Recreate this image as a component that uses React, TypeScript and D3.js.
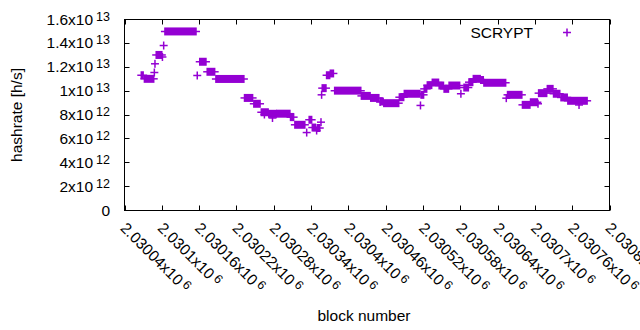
import * as d3 from "d3";
import React, { useRef, useEffect } from "react";

const width = 640;
const height = 330;
const frame = { left: 124.5, right: 609.5, top: 19.5, bottom: 210.5 };
const purple = "#9400d3";
const font = "'Liberation Sans', Arial, sans-serif";

// runs of SCRYPT blocks that share one hashrate estimate (from == to is a single block)
const runFrom = [
  2030067, 2030072, 2030088, 2030089, 2030091, 2030101, 2030103, 2030105, 2030157, 2030161,
  2030173, 2030187, 2030233, 2030248, 2030260, 2030265, 2030272, 2030278, 2030285, 2030307,
  2030314, 2030333, 2030337, 2030342, 2030349, 2030350, 2030356, 2030357, 2030358, 2030365,
  2030371, 2030378, 2030421, 2030436, 2030451, 2030452, 2030457, 2030482, 2030490, 2030516,
  2030517, 2030522, 2030527, 2030535, 2030546, 2030554, 2030562, 2030581, 2030586, 2030594,
  2030601, 2030613, 2030618, 2030654, 2030656, 2030680, 2030693, 2030705, 2030706, 2030720,
  2030730, 2030742, 2030753, 2030771,
];
const runTo = [
  2030070, 2030087, 2030088, 2030089, 2030100, 2030101, 2030103, 2030155, 2030157, 2030171,
  2030185, 2030232, 2030246, 2030258, 2030271, 2030265, 2030284, 2030278, 2030306, 2030312,
  2030330, 2030333, 2030341, 2030347, 2030349, 2030354, 2030356, 2030357, 2030364, 2030370,
  2030376, 2030420, 2030435, 2030449, 2030451, 2030456, 2030481, 2030489, 2030515, 2030516,
  2030521, 2030526, 2030534, 2030545, 2030553, 2030561, 2030579, 2030581, 2030593, 2030600,
  2030612, 2030617, 2030653, 2030654, 2030679, 2030692, 2030704, 2030705, 2030719, 2030729,
  2030740, 2030752, 2030784, 2030771,
];
const runHashrate = [
  11.33e12, 11.03e12, 11.56e12, 12.29e12, 13.03e12, 12.86e12, 13.82e12, 15.0e12, 11.31e12, 12.46e12,
  11.62e12, 11.02e12, 9.43e12, 8.94e12, 8.23e12, 8.04e12, 8.1e12, 7.75e12, 8.11e12, 7.82e12,
  7.18e12, 6.53e12, 7.6e12, 6.95e12, 6.7e12, 6.91e12, 7.4e12, 9.69e12, 10.25e12, 11.33e12,
  11.48e12, 10.04e12, 9.6e12, 9.43e12, 9.09e12, 9.13e12, 8.99e12, 9.49e12, 9.78e12, 8.8e12,
  9.69e12, 10.19e12, 10.5e12, 10.72e12, 10.47e12, 10.19e12, 10.47e12, 9.78e12, 10.3e12, 10.75e12,
  11.03e12, 10.93e12, 10.7e12, 9.41e12, 9.69e12, 8.85e12, 9.07e12, 8.94e12, 9.83e12, 10.19e12,
  9.78e12, 9.47e12, 9.19e12, 8.84e12,
];

const xTicks = [
  2030040, 2030100, 2030160, 2030220, 2030280, 2030340, 2030400, 2030460, 2030520, 2030580,
  2030640, 2030700, 2030760, 2030820,
];
const xTickLabels = [
  "2.03004x10^6", "2.0301x10^6", "2.03016x10^6", "2.03022x10^6", "2.03028x10^6", "2.03034x10^6",
  "2.0304x10^6", "2.03046x10^6", "2.03052x10^6", "2.03058x10^6", "2.03064x10^6", "2.0307x10^6",
  "2.03076x10^6", "2.03082x10^6",
];
const yTicks = [0, 2e12, 4e12, 6e12, 8e12, 1e13, 1.2e13, 1.4e13, 1.6e13];
const yTickLabels = [
  "0", "2x10^12", "4x10^12", "6x10^12", "8x10^12", "1x10^13", "1.2x10^13", "1.4x10^13", "1.6x10^13",
];

const arm = 4;
const lw = 1.5;

export default function App() {
  const ref = useRef(null);

  useEffect(() => {
    const svg = d3.select(ref.current);
    svg.selectAll("*").remove();

    var scaleX = d3.scaleLinear().domain([2030040, 2030820]).range([frame.left, frame.right]);
    var scaleY = d3.scaleLinear().domain([0, 1.6e13]).range([frame.bottom, frame.top]);

    // label with a superscript part after "^"
    function supText(sel: any, label: string) {
      const parts = label.split("^");
      sel.append("tspan").text(parts[0]);
      if (parts.length > 1) {
        sel.append("tspan").attr("dx", 3).attr("dy", -4).style("font-size", "12.5px").text(parts[1]);
      }
    }

    // ticks (inward, mirrored)
    const ticks = svg.append("g").attr("stroke", "black").attr("stroke-width", 1);
    ticks
      .selectAll(".xt")
      .data(xTicks)
      .join("path")
      .attr("d", (d: number) => {
        const px = Math.round(scaleX(d)) + 0.5;
        return `M${px},${frame.bottom}v-5M${px},${frame.top}v5`;
      });
    ticks
      .selectAll(".yt")
      .data(yTicks)
      .join("path")
      .attr("d", (d: number) => {
        const py = Math.round(scaleY(d) - 0.5) + 0.5;
        return `M${frame.left},${py}h5M${frame.right},${py}h-5`;
      });

    svg
      .append("rect")
      .attr("x", frame.left)
      .attr("y", frame.top)
      .attr("width", frame.right - frame.left)
      .attr("height", frame.bottom - frame.top)
      .attr("fill", "none")
      .attr("stroke", "black");

    // y labels
    svg
      .append("g")
      .selectAll("text")
      .data(yTicks)
      .join("text")
      .attr("x", 110)
      .attr("y", (d: number) => scaleY(d) + 5)
      .attr("text-anchor", "end")
      .style("font-family", font)
      .style("font-size", "15.5px")
      .attr("fill", "black")
      .each(function (this: any, d: number, i: number) {
        supText(d3.select(this), yTickLabels[i]);
      });

    // x labels, rotated
    svg
      .append("g")
      .selectAll("text")
      .data(xTicks)
      .join("text")
      .attr("transform", (d: number) => `translate(${scaleX(d) - 5},229) rotate(45)`)
      .style("font-family", font)
      .style("font-size", "15.5px")
      .attr("fill", "black")
      .each(function (this: any, d: number, i: number) {
        supText(d3.select(this), xTickLabels[i]);
      });

    // axis titles
    svg
      .append("text")
      .attr("transform", `translate(21.5,115) rotate(-90)`)
      .attr("text-anchor", "middle")
      .style("font-family", font)
      .style("font-size", "15.5px")
      .text("hashrate [h/s]");
    svg
      .append("text")
      .attr("x", 364)
      .attr("y", 321)
      .attr("text-anchor", "middle")
      .style("font-family", font)
      .style("font-size", "15.5px")
      .text("block number");

    // points: a run of same-value blocks gives a filled band of overlapping "+"
    const runs = runFrom.map((f, i) => ({ from: f, to: runTo[i], v: runHashrate[i] }));
    const pts = svg.append("g");
    pts
      .selectAll("rect")
      .data(runs)
      .join("rect")
      .attr("x", (d: any) => scaleX(d.from) - lw / 2)
      .attr("width", (d: any) => scaleX(d.to) - scaleX(d.from) + lw)
      .attr("y", (d: any) => scaleY(d.v) - arm)
      .attr("height", arm * 2)
      .attr("fill", purple);
    pts
      .selectAll("line")
      .data(runs)
      .join("line")
      .attr("x1", (d: any) => scaleX(d.from) - arm)
      .attr("x2", (d: any) => scaleX(d.to) + arm)
      .attr("y1", (d: any) => scaleY(d.v))
      .attr("y2", (d: any) => scaleY(d.v))
      .attr("stroke", purple)
      .attr("stroke-width", lw);

    // legend
    svg
      .append("text")
      .attr("x", 533)
      .attr("y", 37.5)
      .attr("text-anchor", "end")
      .style("font-family", font)
      .style("font-size", "15.5px")
      .text("SCRYPT");
    svg
      .append("path")
      .attr("d", `M${567 - arm},32.5h${arm * 2}M567,${32.5 - arm}v${arm * 2}`)
      .attr("stroke", purple)
      .attr("stroke-width", lw);
  }, []);

  return (
    <svg
      ref={ref}
      width={width}
      height={height}
      viewBox={`0 0 ${width} ${height}`}
      style={{ position: "absolute", left: 0, top: 0, background: "white", display: "block" }}
    ></svg>
  );
}
